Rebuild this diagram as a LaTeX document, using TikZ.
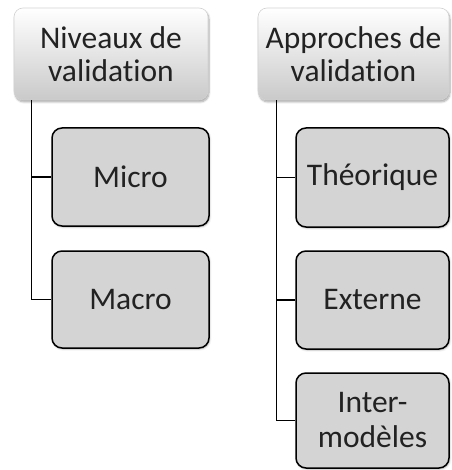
\documentclass[tikz,border=0pt]{standalone}
\usepackage{fontspec}
\setmainfont{Carlito}[Ligatures=NoCommon]
\usetikzlibrary{calc,shadows.blur}
\definecolor{boxfill}{HTML}{D4D4D4}
\definecolor{inkgray}{HTML}{222222}
\tikzset{
  headbox/.style={rounded corners=9pt, draw=gray!35, line width=0.6pt,
    top color=white, bottom color=gray!42, text=inkgray,
    blur shadow={shadow xshift=1pt, shadow yshift=-2pt, shadow blur steps=6, shadow opacity=35},
    align=center, font=\fontsize{31.5}{33}\selectfont, inner sep=0pt},
  itembox/.style={rounded corners=10pt, draw=black, line width=1.5pt,
    fill=boxfill, text=inkgray,
    blur shadow={shadow xshift=0.8pt, shadow yshift=-1pt, shadow blur steps=4, shadow opacity=30},
    align=center, font=\fontsize{31.5}{35}\selectfont, inner sep=0pt},
  link/.style={draw=black, line width=1.2pt}
}
\begin{document}
\begin{tikzpicture}[x=1pt,y=-1pt]
\useasboundingbox (0,0) rectangle (451,470);
% headers
\node[headbox, minimum width=194pt, minimum height=92pt] (h1) at (111,54) {Niveaux de\\validation};
\node[headbox, minimum width=191pt, minimum height=92pt] (h2) at (353.5,54) {Approches de\\validation};
% left column
\node[itembox, minimum width=157pt, minimum height=98pt] (micro) at (130.5,177) {Micro};
\node[itembox, minimum width=157pt, minimum height=97pt] (macro) at (130.5,299.5) {Macro};
% right column
\node[itembox, minimum width=153pt, minimum height=99pt] (theo) at (372.5,177.5) {Théorique};
\node[itembox, minimum width=153pt, minimum height=98pt] (ext) at (372.5,300) {Externe};
\node[itembox, minimum width=153pt, minimum height=95pt] (inter) at (372.5,420.5) {Inter-\\modèles};
% connectors
\coordinate (t1) at ($(h1.south west)+(18,0)$);
\coordinate (t2) at ($(h2.south west)+(19,0)$);
\draw[link] (t1) |- (micro.west);
\draw[link] (t1) |- (macro.west);
\draw[link] (t2) |- (theo.west);
\draw[link] (t2) |- (ext.west);
\draw[link] (t2) |- (inter.west);
\end{tikzpicture}
\end{document}
